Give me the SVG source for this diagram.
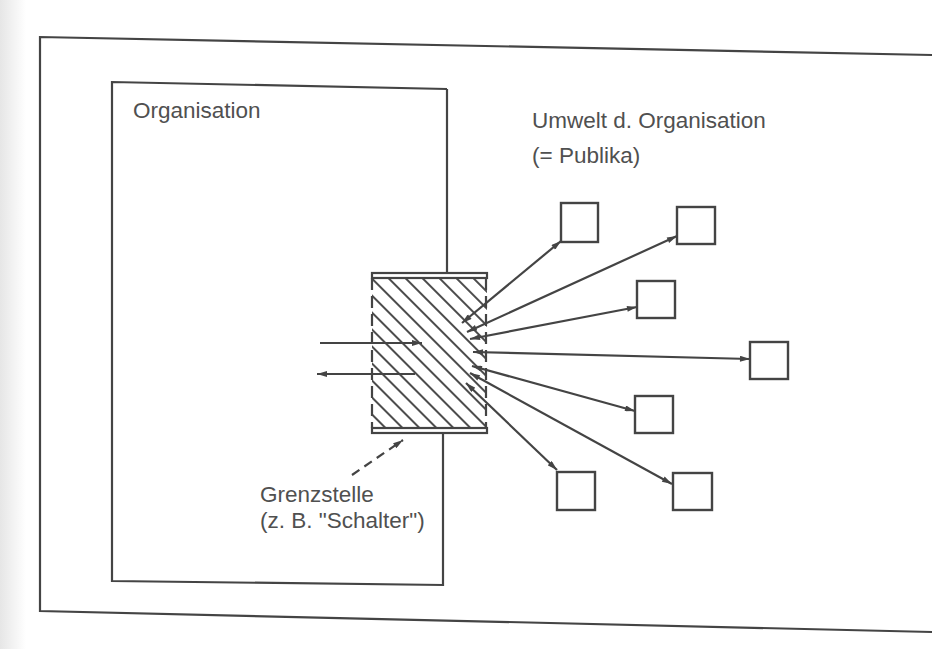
<svg xmlns="http://www.w3.org/2000/svg" width="932" height="649" viewBox="0 0 932 649">
<defs>
<style>
.ln{stroke:#444;stroke-width:2.2;fill:none}
.bx{stroke:#444;stroke-width:2.4;fill:#fff}
.tx{font-family:"Liberation Sans",Arial,sans-serif;font-size:22.5px;fill:#505050}
.ar{stroke:#444;stroke-width:2.2;fill:none;marker-start:url(#ah);marker-end:url(#ah)}
</style>
<marker id="ah" viewBox="0 0 10 6" refX="10" refY="3" markerWidth="11" markerHeight="6" markerUnits="userSpaceOnUse" orient="auto-start-reverse">
<path d="M0,0 L10,3 L0,6 Z" fill="#444"/>
</marker>
<marker id="ah1" viewBox="0 0 10 6" refX="10" refY="3" markerWidth="12" markerHeight="6" markerUnits="userSpaceOnUse" orient="auto">
<path d="M0,0 L10,3 L0,6 Z" fill="#444"/>
</marker>
<pattern id="hatch" patternUnits="userSpaceOnUse" width="12" height="12" patternTransform="rotate(-45)">
<line x1="6" y1="0" x2="6" y2="12" stroke="#444" stroke-width="1.9"/>
</pattern>
<linearGradient id="edge" x1="0" y1="0" x2="1" y2="0">
<stop offset="0" stop-color="#e6e6e6"/>
<stop offset="1" stop-color="#ffffff"/>
</linearGradient>
</defs>
<rect x="0" y="0" width="932" height="649" fill="#fff"/>
<rect x="0" y="0" width="26" height="649" fill="url(#edge)"/>

<g id="frame">
<path class="ln" d="M932,55 L40,37 L40,611 L932,632" stroke-width="2.6"/>
</g>

<g id="organisation">
<path class="ln" d="M447,89 L112,82 L112,581 L443,585 L443,433 M447,89 L447,273"/>
<text class="tx" x="133" y="118">Organisation</text>
</g>

<g id="grenzstelle">
<rect x="372" y="278" width="115" height="150" fill="url(#hatch)"/>
<rect class="ln" x="372" y="273" width="115" height="5" fill="#fff"/>
<rect class="ln" x="372" y="428" width="115" height="5" fill="#fff"/>
<line class="ln" x1="372" y1="278" x2="372" y2="428" stroke-dasharray="12,6"/>
<line class="ln" x1="486" y1="278" x2="486" y2="428" stroke-dasharray="12,6"/>
<text class="tx" x="260" y="502">Grenzstelle</text>
<text class="tx" x="260" y="528">(z. B. "Schalter")</text>
</g>

<g id="umwelt">
<text class="tx" x="532" y="128">Umwelt d. Organisation</text>
<text class="tx" x="532" y="163">(= Publika)</text>
</g>

<g id="publika">
<rect id="p1" class="bx" x="561" y="203" width="37" height="39"/>
<rect id="p2" class="bx" x="677" y="207" width="38" height="37"/>
<rect id="p3" class="bx" x="637" y="281" width="38" height="37"/>
<rect id="p4" class="bx" x="750" y="342" width="38" height="37"/>
<rect id="p5" class="bx" x="635" y="396" width="38" height="37"/>
<rect id="p6" class="bx" x="557" y="472" width="38" height="38"/>
<rect id="p7" class="bx" x="673" y="473" width="39" height="37"/>
</g>

<g id="connectors">
<line class="ln" x1="320" y1="343" x2="422" y2="343" marker-end="url(#ah1)"/>
<line class="ln" x1="415" y1="374" x2="317" y2="374" marker-end="url(#ah1)"/>
<line class="ar" x1="462" y1="323" x2="561" y2="241"/>
<line class="ar" x1="467" y1="332" x2="677" y2="236"/>
<line class="ar" x1="470" y1="339" x2="637" y2="307"/>
<line class="ar" x1="473" y1="352" x2="750" y2="359"/>
<line class="ar" x1="472" y1="366" x2="635" y2="411"/>
<line class="ar" x1="470" y1="373" x2="672" y2="484"/>
<line class="ar" x1="466" y1="383" x2="557" y2="470"/>
<line class="ln" x1="352" y1="475" x2="403" y2="440" stroke-dasharray="9,6" marker-end="url(#ah1)"/>
</g>
</svg>
